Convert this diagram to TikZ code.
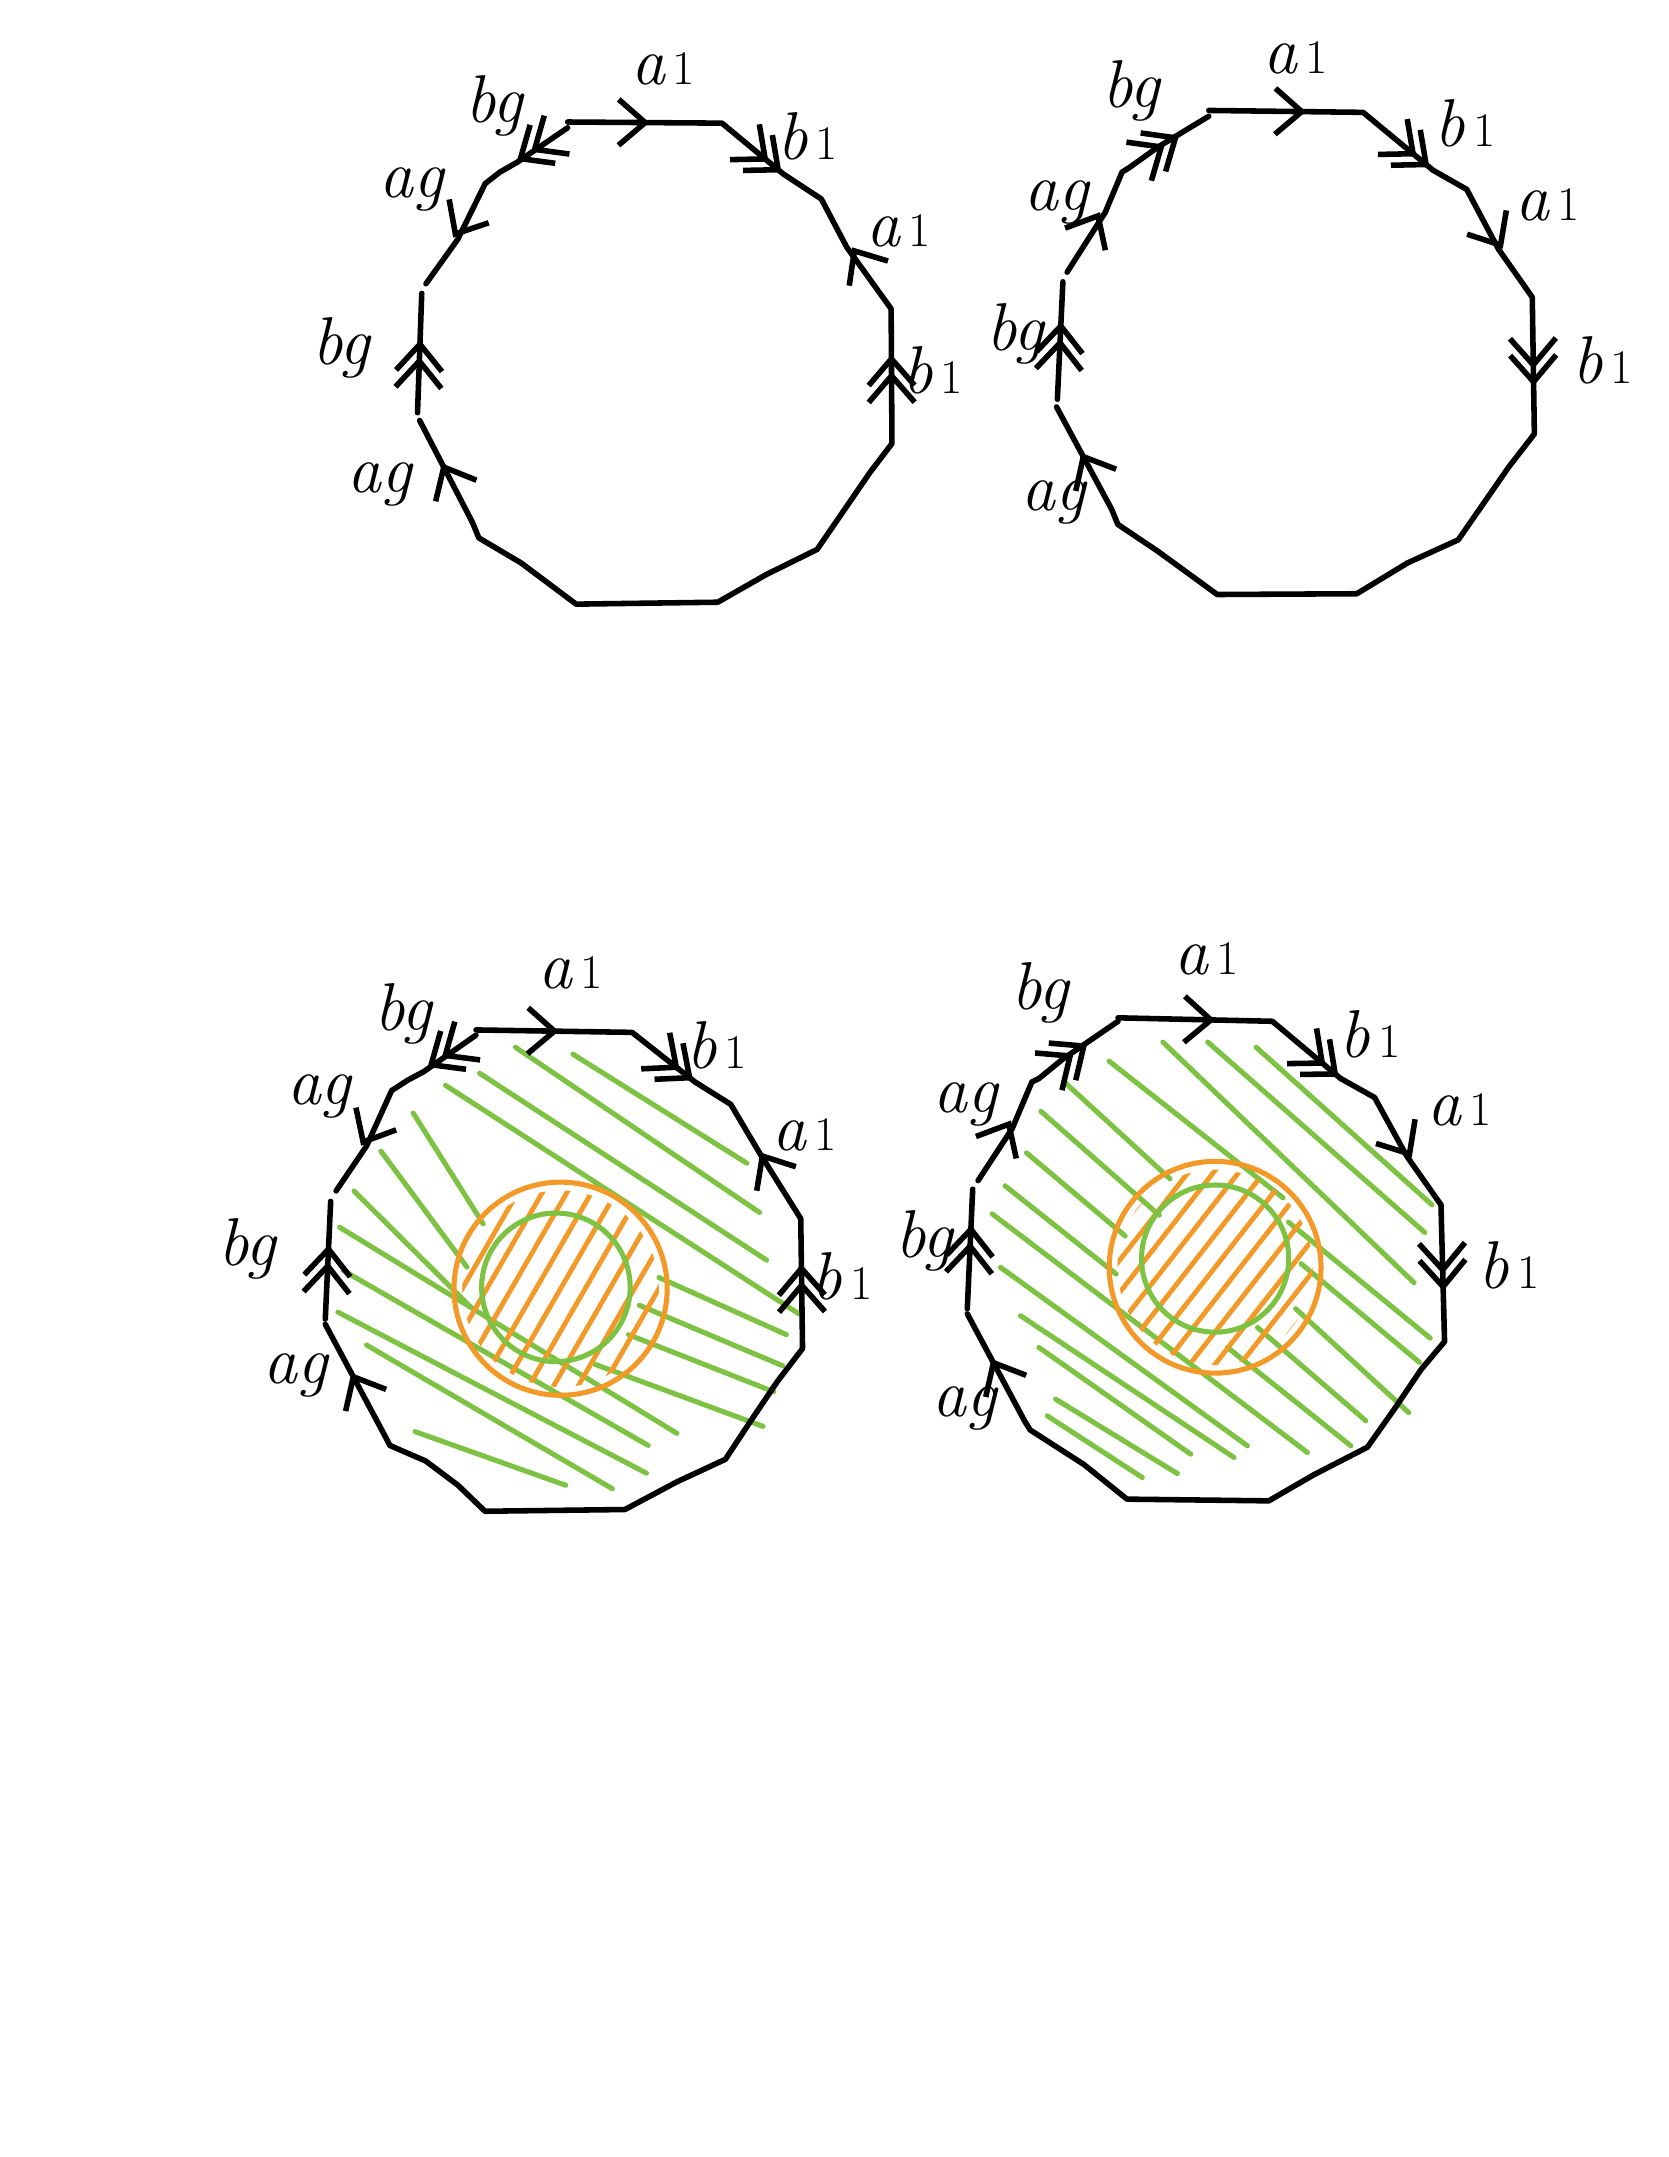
\documentclass[tikz,border=0pt]{standalone}
\usetikzlibrary{arrows.meta,decorations.markings,calc}
\definecolor{hgreen}{RGB}{125,194,66}
\definecolor{horange}{RGB}{242,153,40}
\newcommand\lone{{\upshape\fontsize{20}{20}\selectfont\,1}}
\tikzset{
  cb/.tip={Straight Barb[length=11pt,width=19pt]},
  edge/.style={line width=2.3pt, line cap=round, line join=round},
  mk/.style={line width=2.3pt, line cap=round, line join=round, postaction={decorate}},
  sgl/.style={mk, decoration={markings, mark=at position #1 with {\arrow{cb}}}},
  dbl/.style={mk, decoration={markings, mark=at position #1 with {\arrow{cb}\pgftransformxshift{-7pt}\arrow{cb}}}},
  gline/.style={hgreen, line width=2.1pt, line cap=round},
  oline/.style={horange, line width=2pt, line cap=round},
  ocirc/.style={horange, line width=2.1pt},
  gcirc/.style={hgreen, line width=2.1pt},
  lab/.style={font=\fontsize{28}{28}\selectfont\itshape, inner sep=0pt}
}
\begin{document}
\begin{tikzpicture}[x=0.02cm,y=-0.02cm]
\useasboundingbox (0,0) rectangle (1213,1568);
\fill[white] (0,0) rectangle (1213,1568);

% ---------------- P1 (top-left) ----------------
\begin{scope}[shift={(203.6,14.5)},x=0.006154cm,y=-0.005594cm]
\draw[edge] (680,265)--(1045,268)--(1190,400)--(1280,465)--(1340,590)--(1445,750)--(1447,1100)--(1395,1175)--(1270,1375)--(1150,1440)--(1035,1512)--(700,1517)--(570,1410)--(470,1345)--(455,1305)--(330,1040);
\draw[edge] (325,1020)--(335,710);
\draw[edge] (345,685)--(420,570)--(485,425)--(520,395)--(560,370)--(680,280);
\path[sgl=0.53] (680,265)--(1045,268);
\path[dbl=0.97] (1045,268)--(1190,400);
\path[sgl=0.56] (1445,750)--(1280,465);
\path[dbl=0.66] (1447,1100)--(1445,750);
\path[dbl=0.61] (325,1020)--(335,710);
\path[sgl=0.54] (485,425)--(345,685);
\path[dbl=0.75] (680,280)--(520,395);
\path[sgl=0.58] (455,1305)--(330,1040);
\end{scope}

% ---------------- P2 (top-right) ----------------
\begin{scope}[shift={(712.7,14.5)},x=0.006154cm,y=-0.005594cm]
\draw[edge] (540,235)--(905,240)--(1070,390)--(1150,440)--(1225,595)--(1305,720)--(1310,1075)--(1250,1160)--(1130,1350)--(1010,1410)--(890,1490)--(560,1492)--(420,1380)--(325,1310)--(310,1270)--(180,1005);
\draw[edge] (182,985)--(195,680);
\draw[edge] (205,655)--(295,500)--(335,395)--(350,385)--(420,330)--(540,250);
\path[sgl=0.63] (540,235)--(905,240);
\path[dbl=0.95] (905,240)--(1070,390);
\path[sgl=0.55] (1150,440)--(1305,720);
\path[dbl=0.65] (1305,720)--(1310,1075);
\path[dbl=0.66] (182,985)--(195,680);
\path[sgl=0.6] (205,655)--(335,395);
\path[dbl=0.63] (350,385)--(540,250);
\path[sgl=0.55] (310,1270)--(180,1005);
\end{scope}

% ---------------- P3 (bottom-left) ----------------
\coordinate (c3o) at (407.5,936.8);
\coordinate (c3g) at (404.1,935.8);
\begin{scope}[shift={(218.2,727.3)},x=0.005222cm,y=-0.005036cm]
\draw[gline] (600,135)--(1280,612);
\draw[gline] (760,155)--(1245,470);
\draw[gline] (500,210)--(1300,750);
\draw[gline] (405,245)--(1390,905);
\draw[gline] (315,325)--(510,645);
\draw[gline] (225,435)--(465,770);
\draw[gline] (150,550)--(475,885);
\draw[gline] (110,655)--(1050,1250);
\draw[gline] (120,780)--(970,1285);
\draw[gline] (105,900)--(965,1365);
\draw[gline] (185,995)--(870,1410);
\draw[gline] (320,1245)--(740,1400);
\draw[gline] (1000,800)--(1355,965);
\draw[gline] (945,880)--(1345,1055);
\draw[gline] (915,965)--(1320,1130);
\draw[gline] (820,1050)--(1290,1230);
\end{scope}
\begin{scope}
\clip (c3o) circle[radius=1.43cm];
\foreach \k in {-5,...,5} {
  \draw[oline] ($(c3o)+({\k*13.4-45},{\k*7.75+77.94})$) -- ++(90,-155.88);
}
\end{scope}
\draw[ocirc] (c3o) circle[radius=1.55cm];
\draw[gcirc] (c3g) circle[radius=1.08cm];
\begin{scope}[shift={(218.2,727.3)},x=0.005222cm,y=-0.005036cm]
\draw[edge] (490,85)--(925,92)--(1100,235)--(1200,300)--(1280,440)--(1395,630)--(1400,1005)--(1330,1100)--(1255,1215)--(1185,1325)--(1050,1390)--(905,1470)--(515,1475)--(440,1400)--(350,1330)--(250,1285)--(235,1255)--(70,935);
\draw[edge] (70,920)--(85,580);
\draw[edge] (100,550)--(185,420)--(255,260)--(300,230)--(345,205)--(490,100);
\path[sgl=0.53] (490,85)--(925,92);
\path[dbl=0.97] (925,92)--(1100,235);
\path[sgl=0.58] (1395,630)--(1200,300);
\path[dbl=0.65] (1400,1005)--(1395,630);
\path[dbl=0.63] (70,920)--(85,580);
\path[sgl=0.55] (255,260)--(100,550);
\path[dbl=0.71] (490,100)--(300,230);
\path[sgl=0.56] (235,1255)--(70,935);
\end{scope}

% ---------------- P4 (bottom-right) ----------------
\coordinate (c4o) at (883.3,921.2);
\coordinate (c4g) at (883.3,914.9);
\begin{scope}[shift={(683.6,727.3)},x=0.005222cm,y=-0.005036cm]
\draw[gline] (880,135)--(1370,590);
\draw[gline] (745,120)--(1350,670);
\draw[gline] (620,120)--(1320,815);
\draw[gline] (470,175)--(955,570);
\draw[gline] (345,235)--(640,515);
\draw[gline] (280,320)--(610,620);
\draw[gline] (240,440)--(515,680);
\draw[gline] (180,535)--(490,790);
\draw[gline] (970,640)--(1365,975);
\draw[gline] (1005,760)--(1335,1045);
\draw[gline] (990,890)--(1305,1190);
\end{scope}
\begin{scope}[shift={(698.2,858.2)},x=0.004848cm,y=-0.004848cm]
\draw[gline] (95,100)--(1040,815);
\draw[gline] (120,260)--(860,795);
\draw[gline] (180,405)--(820,830);
\draw[gline] (235,500)--(690,820);
\draw[gline] (285,655)--(650,878);
\draw[gline] (260,705)--(545,890);
\draw[gline] (800,500)--(1170,795);
\draw[gline] (890,440)--(1215,720);
\end{scope}
\begin{scope}
\clip (c4o) circle[radius=1.42cm];
\foreach \k in {-6,...,6} {
  \draw[oline] ($(c4o)+({\k*11.4-55.4},{\k*8.9+70.9})$) -- ++(110.8,-141.8);
}
\end{scope}
\draw[ocirc] (c4o) circle[radius=1.54cm];
\draw[gcirc] (c4g) circle[radius=1.07cm];
\begin{scope}[shift={(683.6,727.3)},x=0.005222cm,y=-0.005036cm]
\draw[edge] (495,50)--(925,60)--(1115,225)--(1210,280)--(1300,450)--(1395,590)--(1405,985)--(1340,1065)--(1265,1180)--(1190,1290)--(1040,1370)--(915,1445)--(520,1440)--(400,1340)--(250,1240)--(235,1215)--(75,905);
\draw[edge] (75,890)--(90,545);
\draw[edge] (105,520)--(200,370)--(255,235)--(275,225)--(340,170)--(495,60);
\path[sgl=0.63] (495,50)--(925,60);
\path[dbl=0.97] (925,60)--(1115,225);
\path[sgl=0.56] (1210,280)--(1395,590);
\path[dbl=0.63] (1395,590)--(1405,985);
\path[dbl=0.7] (75,890)--(90,545);
\path[sgl=0.61] (105,520)--(255,235);
\path[dbl=0.61] (275,225)--(495,60);
\path[sgl=0.58] (235,1215)--(75,905);
\end{scope}

% ---------------- labels ----------------
\node[lab] (l1a) at (482,50) {a\lone};
\node[lab] (l1b) at (359,77) {bg};
\node[lab] (l1c) at (587,99) {b\lone};
\node[lab] (l1d) at (299,138) {ag};
\node[lab] (l1e) at (653,168) {a\lone};
\node[lab] (l1f) at (248,253) {bg};
\node[lab] (l1g) at (678,269) {b\lone};
\node[lab] (l1h) at (276,352) {ag};

\node[lab] (l2a) at (942,42) {a\lone};
\node[lab] (l2b) at (822,66) {bg};
\node[lab] (l2c) at (1065,90) {b\lone};
\node[lab] (l2d) at (768,147) {ag};
\node[lab] (l2e) at (1125,149) {a\lone};
\node[lab] (l2f) at (738,243) {bg};
\node[lab] (l2g) at (1165,262) {b\lone};
\node[lab] (l2h) at (766,365) {ag};

\node[lab] (l3a) at (415,707) {a\lone};
\node[lab] (l3b) at (293,737) {bg};
\node[lab] (l3c) at (521,760) {b\lone};
\node[lab] (l3d) at (232,797) {ag};
\node[lab] (l3e) at (585,825) {a\lone};
\node[lab] (l3f) at (180,908) {bg};
\node[lab] (l3g) at (612,928) {b\lone};
\node[lab] (l3h) at (215,1000) {ag};

\node[lab] (l4a) at (877,697) {a\lone};
\node[lab] (l4b) at (756,722) {bg};
\node[lab] (l4c) at (996,752) {b\lone};
\node[lab] (l4d) at (702,803) {ag};
\node[lab] (l4e) at (1061,807) {a\lone};
\node[lab] (l4f) at (672,902) {bg};
\node[lab] (l4g) at (1097,920) {b\lone};
\node[lab] (l4h) at (701,1024) {ag};
\end{tikzpicture}
\end{document}
